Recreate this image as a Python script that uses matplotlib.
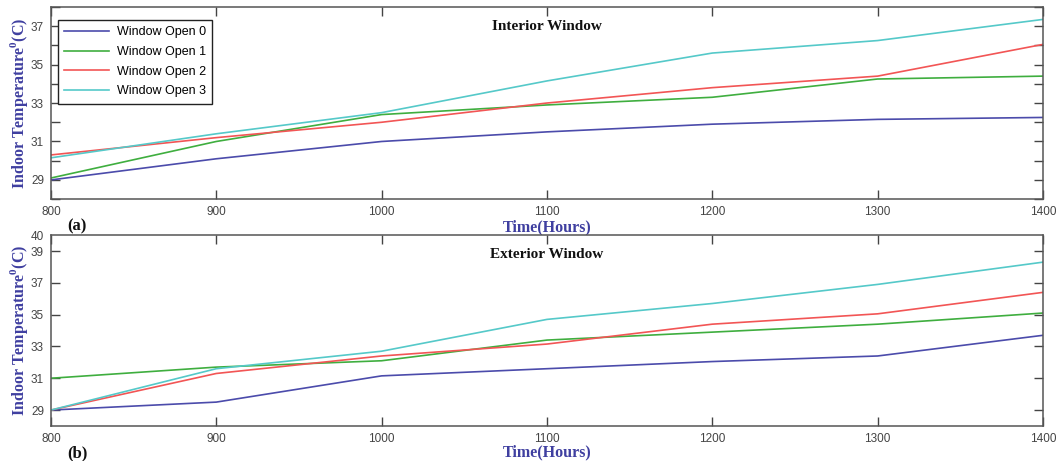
import matplotlib.pyplot as plt

plt.rcParams['mathtext.fontset'] = 'custom'
plt.rcParams['mathtext.rm'] = 'Liberation Serif:bold'
plt.rcParams['mathtext.bf'] = 'Liberation Serif:bold'

hours = [800, 900, 1000, 1100, 1200, 1300, 1400]
labels = ['Window Open 0', 'Window Open 1', 'Window Open 2', 'Window Open 3']

# interior window
int_open0 = [29.0, 30.1, 31.0, 31.5, 31.9, 32.15, 32.25]
int_open1 = [29.1, 31.0, 32.4, 32.9, 33.3, 34.25, 34.4]
int_open2 = [30.3, 31.2, 32.0, 33.0, 33.8, 34.4, 36.05]
int_open3 = [30.15, 31.4, 32.5, 34.15, 35.6, 36.25, 37.35]

# exterior window
ext_open0 = [29.0, 29.5, 31.15, 31.6, 32.05, 32.4, 33.7]
ext_open1 = [31.0, 31.7, 32.1, 33.4, 33.9, 34.4, 35.1]
ext_open2 = [29.0, 31.3, 32.4, 33.15, 34.4, 35.05, 36.4]
ext_open3 = [29.0, 31.6, 32.7, 34.7, 35.7, 36.9, 38.3]

colors = ['#4b4bab', '#3fae3f', '#f25555', '#55c9c9']
tick_col = '#444444'
lab_col = '#3f3fa0'
serif = 'Liberation Serif'
sans = 'Liberation Sans'

fig = plt.figure(figsize=(10.61, 4.61), dpi=100)
ax1 = fig.add_axes([0.048, 0.568, 0.935, 0.417])
ax2 = fig.add_axes([0.048, 0.076, 0.935, 0.414])

panels = [
    (ax1, [int_open0, int_open1, int_open2, int_open3], 'Interior Window', '(a)', (28, 38), -0.146),
    (ax2, [ext_open0, ext_open1, ext_open2, ext_open3], 'Exterior Window', '(b)', (28, 40), -0.138),
]

for ax, series, title, tag, ylim, xlab_y in panels:
    for vals, c, lab in zip(series, colors, labels):
        ax.plot(hours, vals, color=c, linewidth=1.2, label=lab)
    ax.set_xlim(800, 1400)
    ax.set_ylim(*ylim)
    ax.set_xticks(hours)
    ax.set_xticklabels([str(h) for h in hours], family=sans)
    ax.tick_params(direction='in', length=6.5, width=1.0, color=tick_col,
                   top=True, right=True, labelsize=8.5, labelcolor=tick_col, pad=5)
    for s in ax.spines.values():
        s.set_color('#555555')
        s.set_linewidth(1.1)
    ax.text(0.5, 0.93, title, transform=ax.transAxes, ha='center', va='top',
            fontsize=11, fontweight='bold', family=serif, color='#111111')
    ax.set_xlabel('Time(Hours)', fontsize=11.5, fontweight='bold', family=serif,
                  color=lab_col, va='center')
    ax.xaxis.set_label_coords(0.5, xlab_y)
    ax.set_ylabel(r'Indoor Temperature$^{\mathbf{0}}$(C)', fontsize=11.5,
                  fontweight='bold', family=serif, color=lab_col, va='center')
    ax.yaxis.set_label_coords(-0.032, 0.5)
    ax.text(0.016, -0.1, tag, transform=ax.transAxes, ha='left', va='top',
            fontsize=12, fontweight='bold', family=serif, color='#111111')

# y ticks: top panel every degree, labels on odd values
ax1.set_yticks(range(28, 39))
ax1.set_yticklabels(['' if v % 2 == 0 else str(v) for v in range(28, 39)], family=sans)
ax2.set_yticks([29, 31, 33, 35, 37, 39, 40])
ax2.set_yticklabels(['29', '31', '33', '35', '37', '39', '40'], family=sans)
ax2.yaxis.get_major_ticks()[-1].tick1line.set_visible(False)
ax2.yaxis.get_major_ticks()[-1].tick2line.set_visible(False)

leg = ax1.legend(loc='upper left', bbox_to_anchor=(0.007, 0.932), borderaxespad=0,
                 fancybox=False, edgecolor='#222222', framealpha=1, borderpad=0.5,
                 labelspacing=0.62, handlelength=3.6, handletextpad=0.6,
                 prop={'family': sans, 'size': 9})
leg.get_frame().set_linewidth(1.0)

fig.savefig('out.png', dpi=100)
